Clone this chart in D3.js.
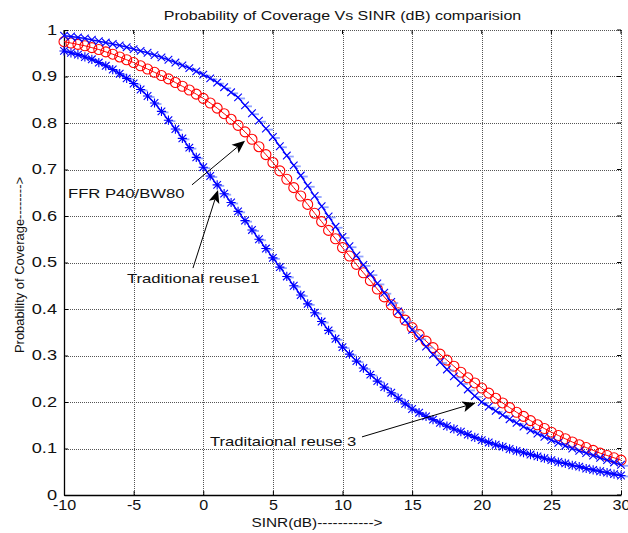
<!DOCTYPE html>
<html><head><meta charset="utf-8">
<script src="https://cdn.jsdelivr.net/npm/d3@7"></script>
<style>
html,body{margin:0;padding:0;background:#fff;}
svg{display:block;font-family:"Liberation Sans",Arial,sans-serif;}
</style></head>
<body><svg id="chart" width="628" height="533"></svg>
<script>
const sinr = [-10,-9.5,-9,-8.5,-8,-7.5,-7,-6.5,-6,-5.5,-5,-4.5,-4,-3.5,-3,-2.5,-2,-1.5,-1,-0.5,0,0.5,1,1.5,2,2.5,3,3.5,4,4.5,5,5.5,6,6.5,7,7.5,8,8.5,9,9.5,10,10.5,11,11.5,12,12.5,13,13.5,14,14.5,15,15.5,16,16.5,17,17.5,18,18.5,19,19.5,20,20.5,21,21.5,22,22.5,23,23.5,24,24.5,25,25.5,26,26.5,27,27.5,28,28.5,29,29.5,30];
const reuse3 = [0.988,0.986,0.984,0.982,0.979,0.976,0.973,0.970,0.967,0.963,0.959,0.955,0.951,0.946,0.941,0.936,0.930,0.924,0.918,0.911,0.904,0.896,0.887,0.877,0.866,0.855,0.838,0.821,0.805,0.788,0.770,0.750,0.730,0.709,0.687,0.665,0.643,0.621,0.599,0.577,0.555,0.535,0.515,0.495,0.475,0.455,0.435,0.415,0.395,0.375,0.355,0.337,0.319,0.302,0.286,0.270,0.255,0.241,0.227,0.213,0.200,0.190,0.181,0.172,0.163,0.155,0.147,0.139,0.132,0.125,0.118,0.112,0.106,0.100,0.095,0.090,0.085,0.080,0.075,0.070,0.065];
const ffr = [0.975,0.972,0.969,0.966,0.962,0.958,0.953,0.948,0.942,0.936,0.930,0.923,0.916,0.909,0.902,0.895,0.887,0.879,0.871,0.862,0.853,0.843,0.832,0.820,0.808,0.795,0.781,0.765,0.749,0.732,0.715,0.697,0.679,0.661,0.643,0.625,0.606,0.588,0.569,0.551,0.532,0.514,0.496,0.478,0.461,0.443,0.426,0.409,0.392,0.376,0.360,0.345,0.331,0.317,0.303,0.290,0.277,0.264,0.252,0.241,0.230,0.219,0.208,0.198,0.188,0.178,0.169,0.160,0.151,0.143,0.135,0.128,0.121,0.114,0.108,0.102,0.096,0.090,0.085,0.080,0.075];
const reuse1 = [0.955,0.951,0.947,0.942,0.937,0.930,0.923,0.915,0.906,0.896,0.885,0.872,0.858,0.843,0.825,0.806,0.787,0.767,0.747,0.726,0.705,0.686,0.667,0.648,0.629,0.610,0.590,0.570,0.550,0.530,0.510,0.490,0.470,0.450,0.430,0.411,0.392,0.373,0.354,0.336,0.318,0.303,0.288,0.273,0.259,0.245,0.232,0.220,0.208,0.196,0.185,0.177,0.169,0.162,0.155,0.148,0.142,0.136,0.130,0.124,0.118,0.113,0.108,0.104,0.099,0.095,0.091,0.087,0.083,0.079,0.075,0.071,0.068,0.064,0.061,0.057,0.054,0.051,0.048,0.045,0.042];
const xTicks = [-10,-5,0,5,10,15,20,25,30];
const xTickLabels = ["-10","-5","0","5","10","15","20","25","30"];
const yTicks = [0,0.1,0.2,0.3,0.4,0.5,0.6,0.7,0.8,0.9,1];
const yTickLabels = ["0","0.1","0.2","0.3","0.4","0.5","0.6","0.7","0.8","0.9","1"];
const titleText = "Probability of Coverage Vs SINR (dB) comparision";
const xLabel = "SINR(dB)----------->";
const yLabel = "Probability of Coverage-------->";
// annotations: label, text anchor (x,y data), arrow tail, arrow tip
const annLabels = ["FFR P40/BW80","Traditional reuse1","Traditaional reuse 3"];
const annText = [[-9.71,0.649],[-5.48,0.466],[0.48,0.116]];
const annTail = [[-0.81,0.667],[-0.74,0.488],[11.4,0.125]];
const annTip = [[3.0,0.762],[1.06,0.656],[19.55,0.198]];

const L=64, T=30, R=621, B=495;
const svg = d3.select("#chart");
const x = d3.scaleLinear().domain([-10,30]).range([L,R]);
const y = d3.scaleLinear().domain([0,1]).range([B,T]);

function stretch(sel, f){
  sel.each(function(){ const len=this.getComputedTextLength(); d3.select(this).attr("textLength", len*f).attr("lengthAdjust","spacingAndGlyphs"); });
}

// grid
const grid = svg.append("g").attr("stroke","#555").attr("stroke-width",1).attr("stroke-dasharray","1,1").attr("shape-rendering","crispEdges");
xTicks.slice(1).forEach(v=>grid.append("line").attr("x1",Math.round(x(v))+0.5).attr("x2",Math.round(x(v))+0.5).attr("y1",T).attr("y2",B));
yTicks.slice(1).forEach(v=>grid.append("line").attr("x1",L).attr("x2",R).attr("y1",Math.round(y(v))+0.5).attr("y2",Math.round(y(v))+0.5));

// axes via d3
const xAxis = svg.append("g").attr("transform",`translate(0,${B})`)
  .call(d3.axisBottom(x).tickValues(xTicks).tickFormat((d,i)=>xTickLabels[i]).tickSizeInner(-4).tickSizeOuter(0).tickPadding(5));
const yAxis = svg.append("g").attr("transform",`translate(${L},0)`)
  .call(d3.axisLeft(y).tickValues(yTicks).tickFormat((d,i)=>yTickLabels[i]).tickSizeInner(-4).tickSizeOuter(0).tickPadding(7));
[xAxis,yAxis].forEach(a=>{
  a.select(".domain").attr("stroke","#000").attr("stroke-width",1.3);
  a.selectAll(".tick line").attr("stroke","#000");
  a.selectAll("text").attr("font-size",14).attr("fill","#111").attr("font-family","Liberation Sans, Arial, sans-serif");
});
xAxis.selectAll("text").attr("dy","0.71em");
stretch(xAxis.selectAll("text"),1.15);
stretch(yAxis.selectAll("text"),1.3);
// top and right ticks
const tk = svg.append("g").attr("stroke","#000").attr("stroke-width",1);
xTicks.forEach(v=>tk.append("line").attr("x1",x(v)).attr("x2",x(v)).attr("y1",T).attr("y2",T+4));
yTicks.forEach(v=>tk.append("line").attr("x1",R).attr("x2",R-4).attr("y1",y(v)).attr("y2",y(v)));

// lines
const line = d3.line().x(d=>x(d[0])).y(d=>y(d[1]));
const ffrPts = sinr.map((s,i)=>[s,ffr[i]]);
const r3Pts = sinr.map((s,i)=>[s,reuse3[i]]);
const r1Pts = sinr.map((s,i)=>[s,reuse1[i]]);

svg.append("path").datum(ffrPts).attr("d",line).attr("fill","none").attr("stroke","#ff0000").attr("stroke-width",1);
svg.append("g").selectAll("circle").data(ffrPts).join("circle")
  .attr("cx",d=>x(d[0])).attr("cy",d=>y(d[1])).attr("r",5)
  .attr("fill","none").attr("stroke","#ff0000").attr("stroke-width",1.1);

function blueSeries(pts, star){
  // light dashes
  svg.append("g").selectAll("line").data(pts).join("line")
    .attr("x1",d=>x(d[0])).attr("x2",d=>x(d[0])+7).attr("y1",d=>y(d[1])+1).attr("y2",d=>y(d[1])+1)
    .attr("stroke","#6f86ff").attr("stroke-width",1.8).attr("opacity",0.75);
  svg.append("path").datum(pts).attr("d",line).attr("fill","none").attr("stroke","#0000ff").attr("stroke-width",1.3);
  const s=3.8;
  svg.append("g").selectAll("path").data(pts).join("path")
    .attr("d",d=>{const cx=x(d[0]),cy=y(d[1]);
      let str=`M${cx-s},${cy-s}L${cx+s},${cy+s}M${cx-s},${cy+s}L${cx+s},${cy-s}`;
      if(star) str+=`M${cx-s-0.8},${cy}L${cx+s+0.8},${cy}M${cx},${cy-s-0.8}L${cx},${cy+s+0.8}`;
      return str;})
    .attr("fill","none").attr("stroke","#0000ff").attr("stroke-width",1.1);
}
blueSeries(r1Pts,true);
blueSeries(r3Pts,false);

// annotations
annLabels.forEach((lab,i)=>{
  const t = svg.append("text").attr("x",x(annText[i][0])).attr("y",y(annText[i][1])).attr("dy","0.35em")
    .attr("font-size",13).attr("fill","#111").text(lab);
  stretch(t,1.28);
  const x1=x(annTail[i][0]), y1=y(annTail[i][1]), x2=x(annTip[i][0]), y2=y(annTip[i][1]);
  const ang=Math.atan2(y2-y1,x2-x1);
  const hl=13, hw=5.5, back=3;
  const bx=x2-hl*Math.cos(ang), by=y2-hl*Math.sin(ang);
  const nx=-Math.sin(ang), ny=Math.cos(ang);
  const mx=x2-(hl-back)*Math.cos(ang), my=y2-(hl-back)*Math.sin(ang);
  svg.append("line").attr("x1",x1).attr("y1",y1).attr("x2",mx).attr("y2",my).attr("stroke","#000").attr("stroke-width",1);
  svg.append("path").attr("d",`M${x2},${y2}L${bx+nx*hw},${by+ny*hw}L${mx},${my}L${bx-nx*hw},${by-ny*hw}Z`).attr("fill","#000");
});

// title & labels
const tt = svg.append("text").attr("x",(L+R)/2).attr("y",16).attr("dy","0.35em").attr("text-anchor","middle")
  .attr("font-size",12.5).attr("fill","#111").text(titleText);
stretch(tt,1.28);
const xl = svg.append("text").attr("x",317).attr("y",523).attr("dy","0.35em").attr("text-anchor","middle")
  .attr("font-size",12).attr("fill","#111").text(xLabel);
stretch(xl,1.28);
svg.append("text").attr("transform","translate(19,265) rotate(-90)").attr("dy","0.35em").attr("text-anchor","middle")
  .attr("font-size",13).attr("fill","#111").attr("textLength",176).attr("lengthAdjust","spacingAndGlyphs").text(yLabel);
</script></body></html>
